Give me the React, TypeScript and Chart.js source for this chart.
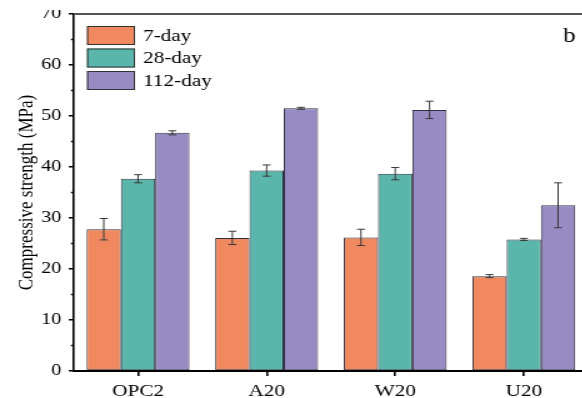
import React, { useEffect, useRef } from 'react';
import { Chart, registerables } from 'chart.js';

Chart.register(...registerables);

// ---- data ----
const categories = ['OPC2', 'A20', 'W20', 'U20'];
const seriesNames = ['7-day', '28-day', '112-day'];
const day7 = [27.8, 26.1, 26.2, 18.6];
const day7Err = [2.1, 1.3, 1.6, 0.3];
const day28 = [37.7, 39.3, 38.7, 25.8];
const day28Err = [0.8, 1.1, 1.2, 0.2];
const day112 = [46.7, 51.5, 51.2, 32.5];
const day112Err = [0.4, 0.2, 1.7, 4.4];
const yMin = 0;
const yMax = 70;
const yStep = 10;
const yMinorTicks = [5, 15, 25, 35, 45, 55, 65];
const yTitle = 'Compressive strength (MPa)';
const panelLabel = 'b';

// ---- styles ----
const colors = ['#F0895F', '#5AB5AA', '#988BC4'];
const FONT = 'Liberation Serif';
const SX = 1.25; // horizontal stretch of the original raster
const CW = 480;
const CH = 407;

const extrasPlugin = {
  id: 'extras',
  afterDatasetsDraw(chart: any) {
    const ctx = chart.ctx;
    const ys = chart.scales.y;
    chart.data.datasets.forEach((ds: any, di: number) => {
      const meta = chart.getDatasetMeta(di);
      meta.data.forEach((bar: any, i: number) => {
        const v = ds.data[i];
        const e = ds.errors[i];
        const yt = ys.getPixelForValue(v + e);
        const yb = ys.getPixelForValue(v - e);
        const x = bar.x;
        const cap = 3.2;
        ctx.save();
        ctx.strokeStyle = '#3a3a3a';
        ctx.lineWidth = 1;
        ctx.beginPath();
        ctx.moveTo(x, yt);
        ctx.lineTo(x, yb);
        ctx.moveTo(x - cap, yt);
        ctx.lineTo(x + cap, yt);
        ctx.moveTo(x - cap, yb);
        ctx.lineTo(x + cap, yb);
        ctx.stroke();
        ctx.restore();
      });
    });
  },
  afterDraw(chart: any) {
    const ctx = chart.ctx;
    const area = chart.chartArea;
    const ys = chart.scales.y;
    ctx.save();
    // top frame line
    ctx.strokeStyle = '#555';
    ctx.lineWidth = 2;
    ctx.beginPath();
    ctx.moveTo(area.left, area.top);
    ctx.lineTo(chart.width, area.top);
    ctx.stroke();
    // minor ticks
    ctx.strokeStyle = '#000';
    ctx.lineWidth = 1.5;
    yMinorTicks.forEach((v) => {
      const y = ys.getPixelForValue(v);
      ctx.beginPath();
      ctx.moveTo(area.left - 2.2, y);
      ctx.lineTo(area.left, y);
      ctx.stroke();
    });
    // legend
    const bx = area.left + 10.6;
    const bw = 38.4;
    const bh = 19;
    ctx.font = `17px "${FONT}"`;
    ctx.textBaseline = 'middle';
    ctx.textAlign = 'left';
    chart.data.datasets.forEach((ds: any, i: number) => {
      const by = area.top + 12 + i * 22.5;
      ctx.fillStyle = ds.backgroundColor;
      ctx.fillRect(bx, by, bw, bh);
      ctx.strokeStyle = '#333';
      ctx.lineWidth = 1;
      ctx.strokeRect(bx + 0.5, by + 0.5, bw - 1, bh - 1);
      ctx.fillStyle = '#000';
      ctx.fillText(ds.label, bx + bw + 6.4, by + bh / 2 + 1);
    });
    // panel label
    ctx.font = `20px "${FONT}"`;
    ctx.textBaseline = 'alphabetic';
    ctx.fillStyle = '#000';
    ctx.fillText(panelLabel, area.right - 20, area.top + 28);
    ctx.restore();
  },
};

export default function App() {
  const ref = useRef<HTMLCanvasElement | null>(null);

  useEffect(() => {
    if (!ref.current) return;
    const values = [day7, day28, day112];
    const errs = [day7Err, day28Err, day112Err];
    const chart = new Chart(ref.current, {
      type: 'bar',
      data: {
        labels: categories,
        datasets: seriesNames.map((name, i) => ({
          label: name,
          data: values[i],
          errors: errs[i],
          backgroundColor: colors[i],
          borderColor: '#2f2f3f',
          borderWidth: 1,
          borderSkipped: false,
          barPercentage: 1,
          categoryPercentage: 0.8,
        })) as any,
      },
      options: {
        animation: false,
        responsive: false,
        maintainAspectRatio: false,
        devicePixelRatio: 1,
        layout: { padding: { top: 20, right: 9.5, left: 0, bottom: 0 } },
        plugins: {
          legend: { display: false },
          tooltip: { enabled: false },
        },
        scales: {
          x: {
            grid: {
              display: true,
              drawOnChartArea: false,
              offset: false,
              tickLength: 5,
              color: '#000',
              lineWidth: 1.6,
            },
            border: { display: true, color: '#000', width: 2 },
            ticks: {
              font: { family: FONT, size: 17 },
              color: '#000',
              padding: 5,
            },
            afterFit: (s: any) => {
              s.height = 30;
            },
          },
          y: {
            min: yMin,
            max: yMax,
            ticks: {
              stepSize: yStep,
              font: { family: FONT, size: 16 },
              color: '#000',
              padding: 6,
            },
            grid: {
              drawOnChartArea: false,
              tickLength: 4,
              color: '#000',
              lineWidth: 1.5,
            },
            border: { display: true, color: '#000', width: 1.6 },
            title: {
              display: true,
              text: yTitle,
              font: { family: FONT, size: 17 },
              color: '#000',
              padding: { top: 11, bottom: 0 },
            },
            afterFit: (s: any) => {
              s.width = 59;
            },
          },
        },
      } as any,
      plugins: [extrasPlugin],
    });
    return () => chart.destroy();
  }, []);

  return (
    <div
      style={{
        position: 'fixed',
        left: 0,
        top: 10,
        width: 582,
        height: 388,
        overflow: 'hidden',
        background: '#fff',
      }}
    >
      <div
        style={{
          position: 'absolute',
          left: 0,
          top: -16,
          width: CW,
          height: CH,
          transform: `scaleX(${SX})`,
          transformOrigin: '0 0',
        }}
      >
        <canvas
          ref={ref}
          width={CW}
          height={CH}
          style={{ display: 'block', width: CW, height: CH }}
        />
      </div>
    </div>
  );
}
